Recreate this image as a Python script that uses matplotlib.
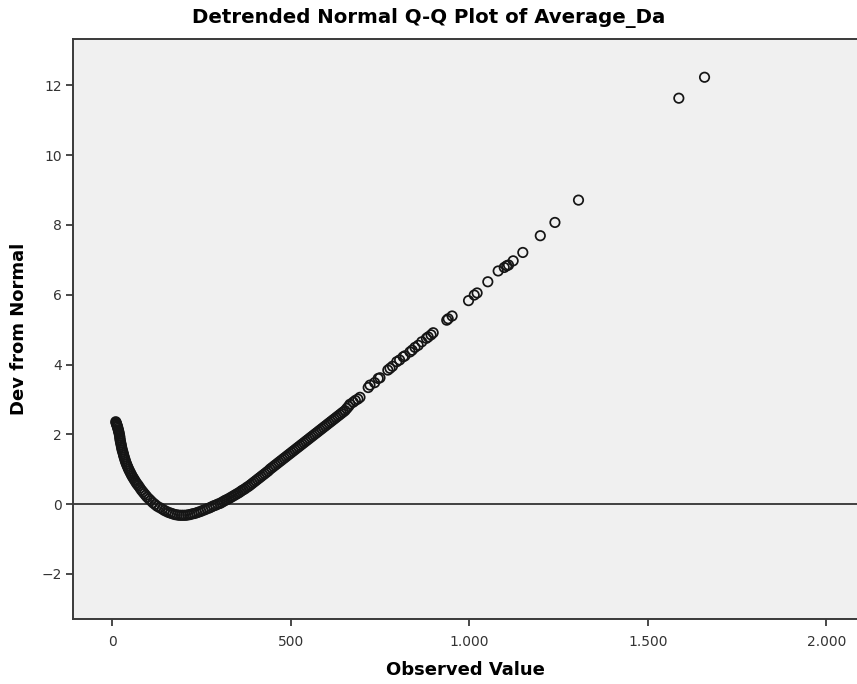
import matplotlib
matplotlib.use('Agg')
import matplotlib.pyplot as plt
from matplotlib.ticker import FuncFormatter

# Observed values (sorted) and their deviation from the normal line
observed = [
    10, 11, 12, 13, 14, 15, 16, 17, 18, 19, 20, 21, 21.5, 22, 23, 24, 25, 26, 27, 28,
    29.5, 31, 32, 33.5, 35, 36.5, 38, 40, 42, 44, 46, 48.5, 51, 53.5,
    56, 59, 62, 65, 68, 71, 74, 78, 82, 86, 90, 94, 98, 103, 108, 114, 120, 126, 133,
    140, 146, 152,
    158, 164, 170, 176, 182, 188, 194, 200, 206, 212, 218, 224, 230, 236, 242, 248, 254,
    260, 266, 272, 278, 284, 290, 296, 302,
    307, 312, 317, 322, 327, 332, 337, 342, 347, 352, 357, 362, 367, 372, 377, 382, 387,
    392, 397, 402, 407, 412, 417, 422, 427, 432, 437, 442, 447, 452, 457, 462, 467, 472,
    477, 482, 487, 492, 497, 502, 507, 512, 517, 522, 527, 532, 537, 542, 547, 552, 557,
    562, 567, 572, 577, 582, 587, 592, 597, 602, 607, 612, 617, 622, 627, 632, 637, 642,
    647, 652, 657, 662, 666,
    675, 681, 688, 694, 717, 722, 735, 745, 750, 772, 778, 785, 797, 805, 815, 820, 834,
    840, 848, 857, 867, 880, 885, 893, 899, 937, 941, 952, 998, 1014, 1022, 1052, 1081,
    1098, 1105, 1110, 1123, 1150, 1199, 1240, 1306, 1587, 1659,
]
dev_from_normal = [
    2.36, 2.33, 2.30, 2.27, 2.24, 2.21, 2.17, 2.13, 2.09, 2.05, 2.00, 1.95, 1.90, 1.85,
    1.80, 1.75, 1.70, 1.65, 1.60, 1.55, 1.50, 1.45, 1.40, 1.35, 1.30, 1.25, 1.20, 1.15,
    1.10, 1.05, 1.00, 0.95, 0.90, 0.85,
    0.80, 0.75, 0.70, 0.65, 0.60, 0.56, 0.52, 0.46, 0.40, 0.35, 0.30, 0.25, 0.20, 0.15,
    0.10, 0.04, -0.01, -0.06, -0.10, -0.14, -0.18, -0.21,
    -0.24, -0.26, -0.28, -0.30, -0.31, -0.32, -0.32, -0.32, -0.32, -0.31, -0.30, -0.28,
    -0.27, -0.25, -0.23, -0.21, -0.18, -0.16, -0.13, -0.11, -0.08, -0.05, -0.03, 0.00, 0.02,
    0.05, 0.08, 0.11, 0.13, 0.16, 0.19, 0.22, 0.25, 0.28, 0.31, 0.34, 0.38, 0.41, 0.44,
    0.48, 0.51, 0.55, 0.59, 0.63, 0.67, 0.71, 0.75, 0.79, 0.83, 0.87, 0.91, 0.95, 1.00,
    1.04, 1.08, 1.12, 1.16, 1.20, 1.24, 1.28, 1.32, 1.36, 1.40, 1.44, 1.48, 1.52, 1.56,
    1.60, 1.64, 1.68, 1.72, 1.76, 1.80, 1.84, 1.88, 1.92, 1.96, 2.00, 2.04, 2.08, 2.12,
    2.16, 2.20, 2.24, 2.28, 2.32, 2.36, 2.40, 2.44, 2.48, 2.52, 2.56, 2.60, 2.64, 2.68,
    2.74, 2.80, 2.86,
    2.92, 2.97, 3.01, 3.06, 3.34, 3.41, 3.48, 3.60, 3.62, 3.84, 3.89, 3.95, 4.08, 4.13,
    4.22, 4.25, 4.36, 4.41, 4.49, 4.55, 4.65, 4.75, 4.79, 4.85, 4.91, 5.27, 5.31, 5.39,
    5.83, 5.99, 6.05, 6.37, 6.68, 6.78, 6.83, 6.85, 6.97, 7.21, 7.69, 8.07, 8.71, 11.63,
    12.23,
]

x_ticks = [0, 500, 1000, 1500, 2000]
y_ticks = [-2, 0, 2, 4, 6, 8, 10, 12]

fig = plt.figure(figsize=(8.57, 6.84), dpi=100)
ax = fig.add_axes([0.0855, 0.0946, 0.9145, 0.8491])
ax.set_facecolor('#f0f0f0')

ax.axhline(0, color='#333333', lw=1.3, zorder=1)
ax.scatter(observed, dev_from_normal, s=46, facecolors='none',
           edgecolors='#151515', linewidths=1.25, zorder=2)

ax.set_xlim(-109, 2086)
ax.set_ylim(-3.30, 13.34)
ax.set_xticks(x_ticks)
ax.set_yticks(y_ticks)
# thousands separator as a dot
ax.xaxis.set_major_formatter(FuncFormatter(lambda v, p: f'{int(v):,}'.replace(',', '.')))

for side in ['left', 'top', 'bottom']:
    ax.spines[side].set_color('#3a3a3a')
    ax.spines[side].set_linewidth(1.4)
ax.spines['right'].set_visible(False)
ax.tick_params(direction='out', length=5, width=1.3, color='#3a3a3a',
               labelsize=10, labelcolor='#333333')
ax.tick_params(axis='x', pad=6)
ax.tick_params(axis='y', pad=3)

fig.text(0.5, 1 - 18 / 684, 'Detrended Normal Q-Q Plot of Average_Da', fontsize=14.2,
         fontweight='bold', ha='center', va='center')
ax.set_xlabel('Observed Value', fontsize=13, fontweight='bold', labelpad=9)
ax.set_ylabel('Dev from Normal', fontsize=13, fontweight='bold', labelpad=10)

fig.savefig('out.png', dpi=100)
